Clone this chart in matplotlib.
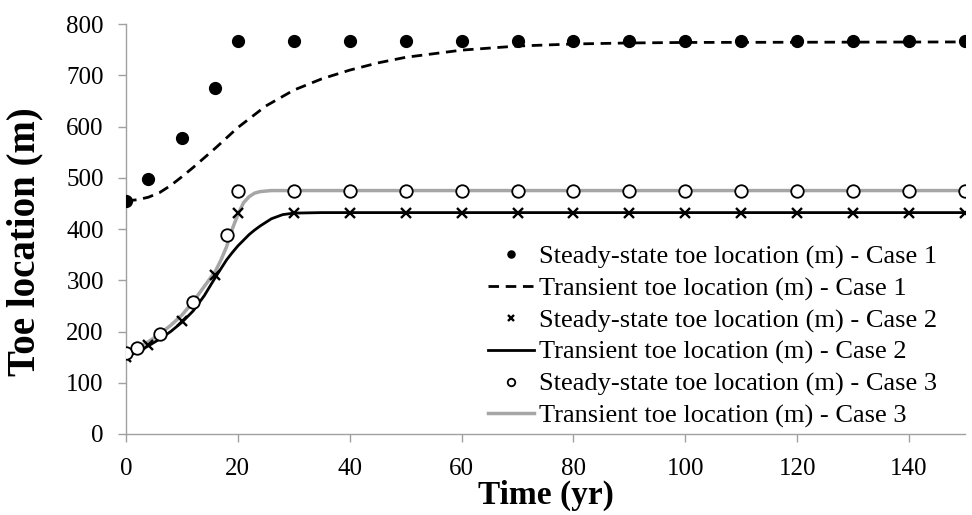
import numpy as np
import matplotlib
matplotlib.use("Agg")
from matplotlib import pyplot as plt

plt.rcParams['font.family'] = ['Liberation Serif', 'DejaVu Serif']

# steady-state toe locations
t_ss1 = [0, 4, 10, 16, 20, 30, 40, 50, 60, 70, 80, 90, 100, 110, 120, 130, 140, 150]
ss1 = [455, 498, 578, 676, 766, 766, 766, 766, 766, 766, 766, 766, 766, 766, 766, 766, 766, 766]
t_ss2 = [0, 4, 10, 16, 20, 30, 40, 50, 60, 70, 80, 90, 100, 110, 120, 130, 140, 150]
ss2 = [150, 173, 221, 310, 432, 432, 432, 432, 432, 432, 432, 432, 432, 432, 432, 432, 432, 432]
t_ss3 = [0, 2, 6, 12, 18, 20, 30, 40, 50, 60, 70, 80, 90, 100, 110, 120, 130, 140, 150]
ss3 = [159, 168, 196, 258, 389, 475, 475, 475, 475, 475, 475, 475, 475, 475, 475, 475, 475, 475, 475]

# transient toe locations
t_tr1 = [0, 2, 4, 6, 8, 10, 12, 14, 16, 18, 20, 25, 30, 35, 40, 45, 50, 55, 60, 70, 80, 90, 100, 150]
tr1 = [455, 457, 462, 471, 485, 502, 520, 539, 558, 578, 598, 640, 671, 693, 710, 724, 735, 742, 749, 757, 761, 763, 764, 765]
t_tr2 = [0, 2, 4, 6, 8, 10, 12, 14, 16, 18, 19, 20, 21, 22, 23, 24, 26, 28, 30, 35, 40, 150]
tr2 = [150, 160, 172, 185, 200, 218, 240, 270, 306, 340, 354, 367, 378, 389, 398, 406, 420, 428, 431, 432, 432, 432]
t_tr3 = [0, 2, 4, 6, 8, 10, 12, 14, 16, 17, 18, 19, 20, 21, 22, 23, 24, 26, 28, 30, 150]
tr3 = [160, 168, 180, 195, 212, 232, 258, 288, 318, 340, 366, 400, 428, 451, 463, 470, 473, 475, 475, 475, 475]

x_ticks = [0, 20, 40, 60, 80, 100, 120, 140]
y_ticks = [0, 100, 200, 300, 400, 500, 600, 700, 800]

labels = ['Steady-state toe location (m) - Case 1',
          'Transient toe location (m) - Case 1',
          'Steady-state toe location (m) - Case 2',
          'Transient toe location (m) - Case 2',
          'Steady-state toe location (m) - Case 3',
          'Transient toe location (m) - Case 3']

fig = plt.figure(figsize=(9.72, 5.15), dpi=100)
ax = fig.add_axes([126/972, 1-434/515, (965-126)/972, (434-24)/515])

ax.plot(t_ss1, ss1, 'o', color='black', ms=8.5, ls='none', label=labels[0], zorder=4)
ax.plot(t_tr1, tr1, color='black', lw=2.0, ls=(0, (3.8, 2.4)), label=labels[1], zorder=3)
ax.plot(t_ss2, ss2, 'x', color='black', ms=7.5, mew=1.7, ls='none', label=labels[2], zorder=4)
ax.plot(t_tr2, tr2, color='black', lw=2.0, label=labels[3], zorder=3)
ax.plot(t_ss3, ss3, 'o', mfc='white', mec='black', mew=1.3, ms=9, ls='none', label=labels[4], zorder=4)
ax.plot(t_tr3, tr3, color='#a6a6a6', lw=2.5, label=labels[5], zorder=2)

ax.set_xlim(0, 150)
ax.set_ylim(0, 800)
ax.set_xticks(x_ticks)
ax.set_yticks(y_ticks)
for s in ['top', 'right']:
    ax.spines[s].set_visible(False)
for s in ['left', 'bottom']:
    ax.spines[s].set_color('#a0a0a0')
    ax.spines[s].set_linewidth(1.0)
ax.tick_params(axis='both', direction='out', length=6, width=1.0, color='#a0a0a0',
               labelsize=18, colors='black')
ax.tick_params(axis='x', pad=11)
ax.tick_params(axis='y', pad=10)
for t in ax.get_xticklines() + ax.get_yticklines():
    t.set_color('#a0a0a0')

ax.set_xlabel('Time (yr)', fontsize=24, fontweight='bold', labelpad=0)
ax.set_ylabel('Toe location (m)', fontsize=28, fontweight='bold')
ax.yaxis.set_label_coords(-0.099, 0.47)

leg = ax.legend(loc='lower left', bbox_to_anchor=(488/972, 1-428/515),
                bbox_transform=fig.transFigure, frameon=False, fontsize=19,
                handlelength=1.75, handletextpad=0.2, labelspacing=0.3,
                borderpad=0, borderaxespad=0, numpoints=1, markerscale=0.6)

fig.savefig('out.png', dpi=100)
